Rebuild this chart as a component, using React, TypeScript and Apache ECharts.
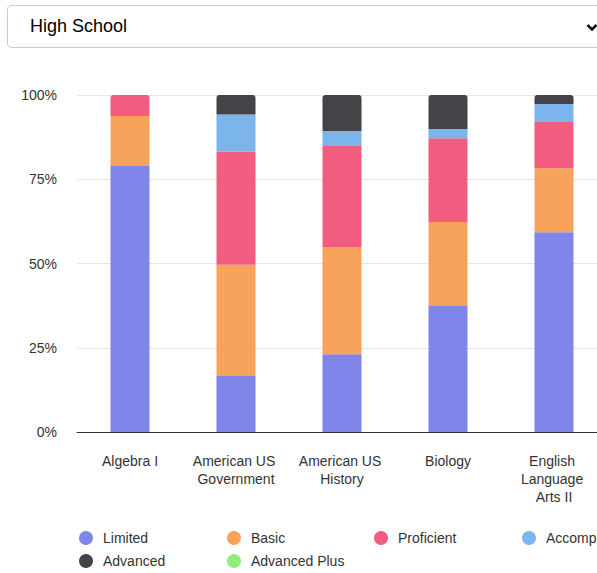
import React, { useEffect, useRef } from "react";
import * as echarts from "echarts";

const categories = ["Algebra I", "American US Government", "American US History", "Biology", "English Language Arts II"];
const seriesNames = ["Limited", "Basic", "Proficient", "Accomplished", "Advanced", "Advanced Plus"];
const limited = [78.9, 16.6, 23.1, 37.4, 59.3];
const basic = [14.9, 33.0, 31.8, 24.9, 19.0];
const proficient = [6.2, 33.6, 30.0, 24.9, 13.7];
const accomplished = [0, 11.0, 4.4, 2.7, 5.3];
const advanced = [0, 5.8, 10.7, 10.1, 2.7];
const advancedPlus = [0, 0, 0, 0, 0];
const colors = ["#8085e9", "#f7a35c", "#f15c80", "#7cb5ec", "#434348", "#90ed7d"];
const yTicks = [0, 25, 50, 75, 100];

const FONT = "'Liberation Sans', Arial, sans-serif";

export default function App() {
  const ref = useRef<HTMLDivElement>(null);
  useEffect(() => {
    if (!ref.current) return;
    const chart = echarts.init(ref.current, undefined, { renderer: "svg" });
    const all = [limited, basic, proficient, accomplished, advanced, advancedPlus];
    const topIdx = categories.map((_, c) => {
      let t = 0;
      all.forEach((arr, s) => {
        if (arr[c] > 0) t = s;
      });
      return t;
    });
    const series = all.map((arr, s) => ({
      name: seriesNames[s],
      type: "bar",
      stack: "total",
      barWidth: 39,
      itemStyle: { color: colors[s] },
      data: arr.map((v, c) => ({
        value: v,
        itemStyle: topIdx[c] === s ? { borderRadius: [3, 3, 0, 0] } : {},
      })),
    }));
    const legendPos = [
      [79, 471],
      [227, 471],
      [374, 471],
      [522, 471],
      [79, 494],
      [227, 494],
    ];
    const legends = seriesNames.map((n, i) => ({
      data: [n],
      left: legendPos[i][0],
      top: legendPos[i][1],
      padding: 0,
      icon: "circle",
      itemWidth: 24,
      itemHeight: 14,
      textStyle: { fontSize: 14, color: "#333333", fontFamily: FONT },
    }));
    chart.setOption({
      animation: false,
      color: colors,
      textStyle: { fontFamily: FONT },
      legend: legends,
      grid: { left: 77, top: 35, width: 530, height: 337, containLabel: false },
      xAxis: {
        type: "category",
        data: categories,
        axisLine: { lineStyle: { color: "#333333", width: 1 } },
        axisTick: { show: false },
        axisLabel: {
          fontSize: 14,
          color: "#333333",
          fontFamily: FONT,
          margin: 20,
          width: 88,
          overflow: "break",
          lineHeight: 18,
          interval: 0,
        },
      },
      yAxis: {
        type: "value",
        min: yTicks[0],
        max: yTicks[yTicks.length - 1],
        interval: 25,
        axisLine: { show: false },
        axisTick: { show: false },
        splitLine: { lineStyle: { color: "#e6e6e6" } },
        axisLabel: {
          formatter: "{value}%",
          fontSize: 14,
          color: "#333333",
          fontFamily: FONT,
          margin: 20,
        },
      },
      series,
    });
    return () => chart.dispose();
  }, []);

  return (
    <div
      style={{
        position: "fixed",
        left: 0,
        top: 0,
        width: 597,
        height: 573,
        overflow: "hidden",
        background: "#fff",
      }}
    >
      <div
        style={{
          position: "absolute",
          left: 7,
          top: 5,
          width: 620,
          height: 43,
          boxSizing: "border-box",
          border: "1px solid #cccccc",
          borderRadius: 4,
          fontFamily: FONT,
          fontSize: 18,
          color: "#000",
          display: "flex",
          alignItems: "center",
          paddingLeft: 22,
          background: "#fff",
        }}
      >
        High School
        <svg
          width="12"
          height="9"
          viewBox="0 0 12 9"
          style={{ position: "absolute", left: 578, top: 17 }}
        >
          <polyline points="1.5,2 6,6.5 10.5,2" fill="none" stroke="#111" strokeWidth="2.6" />
        </svg>
      </div>
      <div ref={ref} style={{ position: "absolute", left: 0, top: 60, width: 620, height: 513 }} />
    </div>
  );
}
